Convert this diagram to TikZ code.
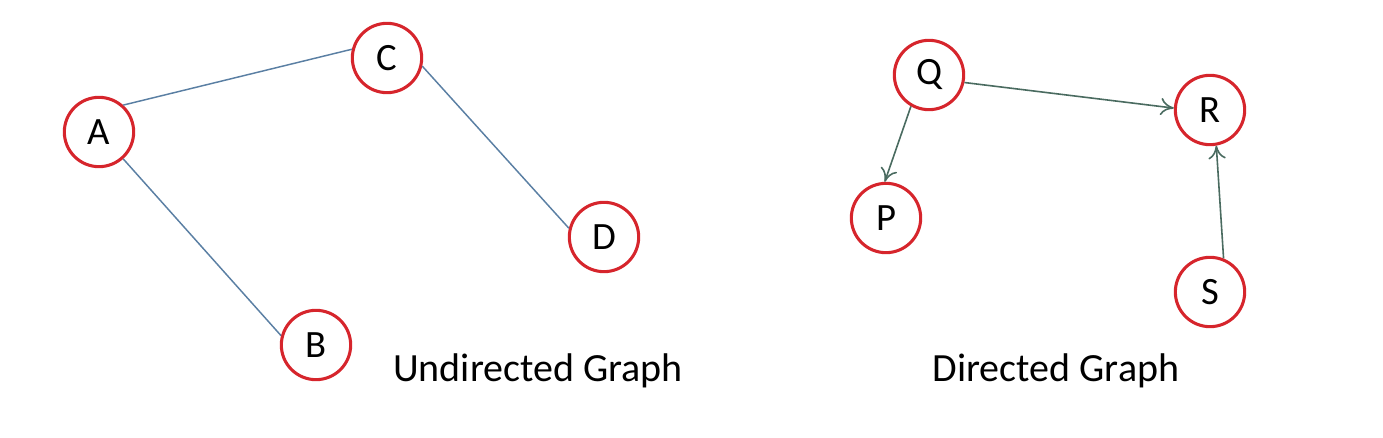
\documentclass[tikz,border=0pt]{standalone}
\usepackage{fontspec}
\setmainfont{Carlito}
\usetikzlibrary{arrows.meta}
\definecolor{ringred}{HTML}{D6252C}
\definecolor{edgeblue}{HTML}{5A7FA3}
\definecolor{arrowgreen}{HTML}{4A6B60}
\tikzset{
  vert/.style={circle, draw=ringred, line width=2.3pt, minimum size=52pt, inner sep=0pt, font=\fontsize{29}{31}\selectfont},
  uedge/.style={draw=edgeblue, line width=1.1pt},
  dedge/.style={draw=arrowgreen, line width=1.2pt, -{To[length=10pt,width=13pt,line width=1.2pt]}},
  caption/.style={font=\fontsize{30}{34}\selectfont, inner sep=0pt}
}
\begin{document}
\begin{tikzpicture}[x=0.75pt,y=-0.75pt]
\useasboundingbox (0,0) rectangle (1383,438);
\node[vert] (A) at (99,132) {A};
\node[vert] (C) at (387,58) {C};
\node[vert] (D) at (604,237) {D};
\node[vert] (B) at (316,345) {B};
\node[vert] (Q) at (929,75) {Q};
\node[vert] (R) at (1210,110) {R};
\node[vert] (P) at (886,218) {P};
\node[vert] (S) at (1210,292) {S};
\draw[uedge] (A.48) -- (C.166);
\draw[uedge] (A.-48) -- (B.165);
\draw[uedge] (C.-13) -- (D.166);
\draw[dedge] (Q.-12) -- (R.177);
\draw[dedge] (Q.-120) -- (P.92);
\draw[dedge] (S.68) -- (R.-80);
\node[caption] (ug) at (538,371) {Undirected Graph};
\node[caption] (dg) at (1056,371) {Directed Graph};
\end{tikzpicture}
\end{document}
